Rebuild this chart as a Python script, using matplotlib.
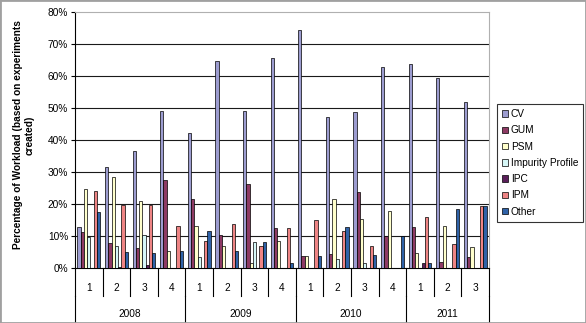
import numpy as np
import matplotlib.pyplot as plt
from matplotlib.transforms import blended_transform_factory
from matplotlib.patches import Rectangle

plt.rcParams['font.family'] = ['Liberation Sans', 'DejaVu Sans']

# quarters 2008 Q1 .. 2011 Q3
quarters = ['1', '2', '3', '4', '1', '2', '3', '4', '1', '2', '3', '4', '1', '2', '3']
years = ['2008', '2009', '2010', '2011']
year_len = [4, 4, 4, 3]

series = ['CV', 'GUM', 'PSM', 'Impurity Profile', 'IPC', 'IPM', 'Other']
cv = [12.8, 31.5, 36.7, 49.1, 42.3, 64.6, 49.0, 65.5, 74.2, 47.1, 48.6, 62.7, 63.6, 59.3, 51.8]
gum = [11.2, 8.0, 6.2, 27.4, 21.5, 10.3, 26.3, 12.6, 3.7, 4.4, 23.7, 10.0, 12.8, 2.0, 3.5]
psm = [24.8, 28.6, 21.0, 5.3, 13.2, 6.9, 1.5, 8.4, 3.7, 21.5, 15.3, 17.8, 4.7, 13.1, 6.5]
imp_profile = [9.9, 6.8, 10.5, 0, 3.4, 0, 8.1, 0, 0, 2.8, 1.5, 0, 0, 0, 0]
ipc = [0, 0.3, 0.9, 0, 0, 0, 0, 0, 0, 0, 0, 0, 1.6, 0, 0]
ipm = [24.0, 19.8, 19.7, 13.1, 8.4, 13.7, 6.9, 12.6, 15.1, 11.5, 6.9, 0, 15.9, 7.5, 19.3]
other = [17.5, 5.0, 4.7, 5.3, 11.5, 5.3, 8.1, 1.5, 3.7, 12.8, 4.1, 10.0, 1.6, 18.4, 19.3]

values = [cv, gum, psm, imp_profile, ipc, ipm, other]
colors = ['#9c9cd0', '#8e3a64', '#ffffcc', '#d6f7f7', '#5a1f5a', '#ee8484', '#2f62a8']

fig = plt.figure(figsize=(5.86, 3.23), dpi=100)
ax = fig.add_axes([75 / 586, 1 - 268.3 / 323, 414 / 586, 256.6 / 323])

n = len(quarters)
x = np.arange(n)
w = 1 / 8.5
for j, (name, vals) in enumerate(zip(series, values)):
    ax.bar(x + (j - 3) * w, vals, width=w, color=colors[j], edgecolor='black',
           linewidth=0.5, label=name, zorder=3)

ax.set_xlim(-0.5, n - 0.5)
ax.set_ylim(0, 80)
ax.set_yticks(range(0, 81, 10))
ax.set_yticklabels([f'{v}%' for v in range(0, 81, 10)], fontsize=7.3)
ax.tick_params(axis='y', length=3, width=0.8, pad=2)
ax.set_xticks([])
for v in range(10, 80, 10):
    ax.axhline(v, color='#1a1a1a', lw=0.8, zorder=1)

ax.spines['left'].set_color('black')
ax.spines['bottom'].set_color('black')
ax.spines['top'].set_color('#b0b0b0')
ax.spines['right'].set_color('#b0b0b0')

# two-level category axis
trans = blended_transform_factory(ax.transData, ax.transAxes)
q_bottom = -0.108
y_bottom = -0.22
for i in range(n + 1):
    ax.plot([i - 0.5, i - 0.5], [0, q_bottom], color='black', lw=0.8,
            transform=trans, clip_on=False)
for i, q in enumerate(quarters):
    ax.text(i, -0.075, q, transform=trans, ha='center', va='center', fontsize=7.3)
start = 0
for yr, ln in zip(years, year_len):
    ax.plot([start - 0.5, start - 0.5], [q_bottom, y_bottom], color='black', lw=0.8,
            transform=trans, clip_on=False)
    ax.text(start + (ln - 1) / 2, -0.178, yr, transform=trans, ha='center',
            va='center', fontsize=7.3)
    start += ln
ax.plot([n - 0.5, n - 0.5], [q_bottom, y_bottom], color='black', lw=0.8,
        transform=trans, clip_on=False)

fig.text(24 / 586, 1 - 135 / 323, 'Percentage of Workload (based on experiments\ncreated)',
         rotation=90, ha='center', va='center', multialignment='center',
         fontsize=7.3, fontweight='bold')

leg = ax.legend(loc='upper left', bbox_to_anchor=(497 / 586, 1 - 104 / 323),
                bbox_transform=fig.transFigure, fontsize=7.3, frameon=True,
                fancybox=False, edgecolor='black', handlelength=0.6,
                handleheight=0.6, handletextpad=0.25, labelspacing=0.62,
                borderpad=0.5, borderaxespad=0)
leg.get_frame().set_linewidth(0.8)

fig.patches.append(Rectangle((0, 0), 1, 1, transform=fig.transFigure, fill=False,
                             edgecolor='#a0a0a0', lw=2))

fig.savefig('out.png', dpi=100)
